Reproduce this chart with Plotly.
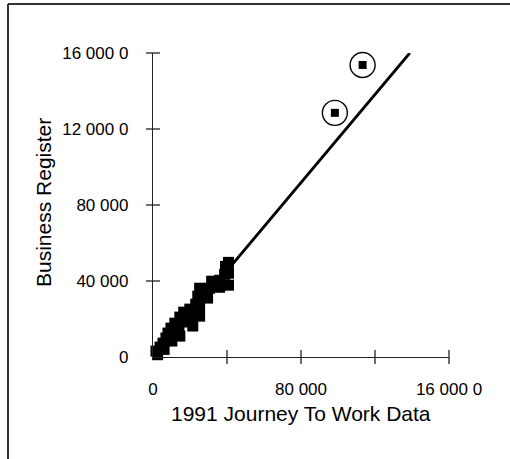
import plotly.graph_objects as go

# Workplace counts per area: 1991 Journey To Work (x) vs Business Register (y)
jtw = [1600, 3800, 5400, 7000, 8100, 10200, 9700, 11800, 11800, 14000,
       14500, 16600, 16600, 19300, 19900, 22000, 23100, 25200, 25200, 24200,
       25200, 27900, 30600, 31700, 36000, 38700, 39200, 40800, 40800, 40800,
       14500, 21500, 29500, 36000, 2500, 6000]
busreg = [3100, 5200, 7300, 10000, 12600, 8400, 15200, 12600, 17800, 15700,
          21000, 18400, 23600, 21500, 25200, 22600, 27800, 21500, 26800, 32000,
          36200, 33600, 36200, 39900, 40400, 43500, 47700, 37800, 49800, 44100,
          11000, 16300, 31000, 36700, 1200, 4000]

# Two circled outlying areas
out_jtw = [98300, 113300]
out_busreg = [128500, 153700]

# Fitted line: busreg = slope * jtw + intercept
slope = 1.16
intercept = -1000
fit_x = [1000, 138800]
fit_y = [slope * v + intercept for v in fit_x]

x_tickvals = [0, 80000, 160000]
x_ticktext = ["0", "80 000", "16 000 0"]
y_tickvals = [0, 40000, 80000, 120000, 160000]
y_ticktext = ["0", "40 000", "80 000", "12 000 0", "16 000 0"]
x_marks = [40000, 80000, 120000, 160000]
y_marks = [40000, 80000, 120000, 160000]

FONT = "Liberation Sans, Arial, sans-serif"

fig = go.Figure()

fig.add_trace(go.Scatter(x=fit_x, y=fit_y, mode="lines",
                         line=dict(color="black", width=2.8),
                         hoverinfo="skip", showlegend=False))

fig.add_trace(go.Scatter(x=jtw, y=busreg, mode="markers",
                         marker=dict(symbol="square", size=11, color="black",
                                     line=dict(width=0)),
                         cliponaxis=False, showlegend=False))

fig.add_trace(go.Scatter(x=out_jtw, y=out_busreg, mode="markers",
                         marker=dict(symbol="square", size=8, color="black",
                                     line=dict(width=0)),
                         cliponaxis=False, showlegend=False))

fig.add_trace(go.Scatter(x=out_jtw, y=out_busreg, mode="markers",
                         marker=dict(symbol="circle-open", size=25, color="black",
                                     line=dict(width=1.4, color="black")),
                         cliponaxis=False, showlegend=False))

# Cross-shaped tick marks straddling each axis
fig.add_trace(go.Scatter(x=x_marks, y=[0] * len(x_marks), mode="markers",
                         marker=dict(symbol="line-ns", size=10,
                                     line=dict(width=1.3, color="#222")),
                         cliponaxis=False, hoverinfo="skip", showlegend=False))
fig.add_trace(go.Scatter(x=[0] * len(y_marks), y=y_marks, mode="markers",
                         marker=dict(symbol="line-ew", size=10,
                                     line=dict(width=1.3, color="#222")),
                         cliponaxis=False, hoverinfo="skip", showlegend=False))

L, R, T, B = 153, 61, 53, 102
W, H = 510, 459
pw, ph = W - L - R, H - T - B


def px_x(p):
    return (p - L) / pw


def px_y(p):
    return (H - B - p) / ph


fig.update_layout(
    width=W, height=H,
    margin=dict(l=L, r=R, t=T, b=B, autoexpand=False),
    paper_bgcolor="white", plot_bgcolor="white",
    font=dict(family=FONT, color="black"),
    xaxis=dict(range=[0, 160000], tickvals=x_tickvals, ticktext=x_ticktext,
               ticks="", showgrid=False, zeroline=False,
               showline=True, linecolor="#222", linewidth=1.4,
               tickfont=dict(size=17, family=FONT), ticklabelstandoff=16),
    yaxis=dict(range=[0, 160000], tickvals=y_tickvals, ticktext=y_ticktext,
               ticks="", showgrid=False, zeroline=False,
               showline=True, linecolor="#222", linewidth=1.4,
               tickfont=dict(size=17, family=FONT), ticklabelstandoff=20),
    annotations=[
        dict(text="1991 Journey To Work Data", xref="paper", yref="paper",
             x=px_x(301), y=px_y(413), xanchor="center", yanchor="middle",
             showarrow=False, font=dict(size=21, family=FONT)),
        dict(text="Business Register", xref="paper", yref="paper",
             x=px_x(43), y=px_y(203), xanchor="center", yanchor="middle",
             textangle=-90, showarrow=False, font=dict(size=21, family=FONT)),
    ],
    shapes=[
        dict(type="line", xref="paper", yref="paper",
             x0=px_x(8), y0=px_y(4), x1=px_x(W), y1=px_y(4),
             line=dict(color="#333", width=2)),
        dict(type="line", xref="paper", yref="paper",
             x0=px_x(8), y0=px_y(4), x1=px_x(8), y1=px_y(H),
             line=dict(color="#333", width=2)),
    ],
)

fig.write_html("out.html")
